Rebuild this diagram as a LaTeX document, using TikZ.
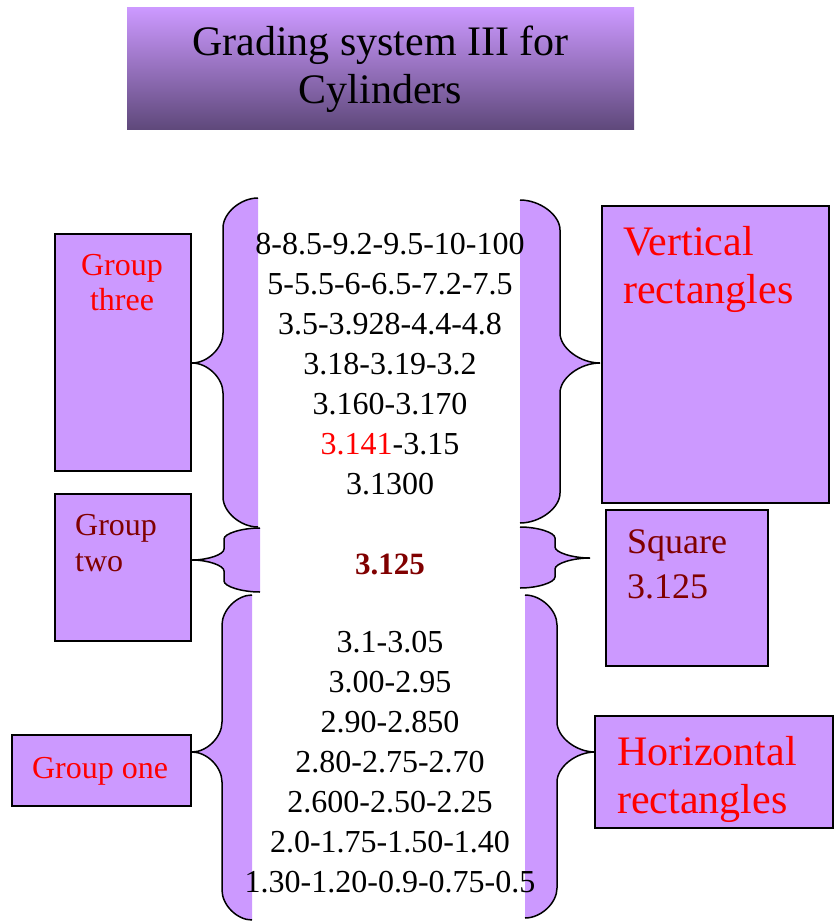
\documentclass[tikz,border=0pt]{standalone}
\usepackage{fontspec}
\setmainfont{Liberation Serif}
\usetikzlibrary{positioning}
\definecolor{lilac}{RGB}{204,153,255}
\definecolor{plumdark}{RGB}{94,72,122}
\definecolor{darkred}{RGB}{128,0,0}
\newcommand{\fsz}[1]{\fontsize{#1}{#1}\selectfont}
% brace: column x, stem x, tip x, top y, tip y, bottom y, corner
\newcommand{\bracepath}[7]{(#1,#4) .. controls ({(#1+#2)/2},#4) and (#2,{#4+#7/2}) .. (#2,#4+#7)
    -- (#2,#5-#7) .. controls (#2,{#5-#7/2}) and ({(#2+#3)/2},#5) .. (#3,#5)
    .. controls ({(#2+#3)/2},#5) and (#2,{#5+#7/2}) .. (#2,#5+#7)
    -- (#2,#6-#7) .. controls (#2,{#6-#7/2}) and ({(#1+#2)/2},#6) .. (#1,#6)}
\newcommand{\sidebrace}[7]{
  \fill[lilac] \bracepath{#1}{#2}{#3}{#4}{#5}{#6}{#7} -- cycle;
  \draw[bracel] \bracepath{#1}{#2}{#3}{#4}{#5}{#6}{#7};
}
\tikzset{
  box/.style={draw,line width=1.5pt,fill=lilac,inner sep=0pt},
  bracel/.style={line width=1.5pt},
  listtxt/.style={anchor=base,inner sep=0pt,font=\fsz{32}},
  grouptxt/.style={inner sep=0pt,font=\fsz{32}},
  kindtxt/.style={anchor=base west,inner sep=0pt}
}
\begin{document}
\begin{tikzpicture}[x=1pt,y=-1pt]
  \useasboundingbox (0,0) rectangle (835,923);
  % title
  \node[top color=lilac,bottom color=plumdark,minimum width=507pt,minimum height=122pt,
        align=center,font=\fsz{42},inner sep=0pt] (title) at (380.5,69)
        {Grading system III for\\[6pt]Cylinders};
  % braces
  \sidebrace{258}{223}{192}{198}{363}{527}{30}
  \sidebrace{520}{560}{600}{200}{363}{523}{30}
  \sidebrace{260}{224}{192}{528}{560}{592}{11}
  \sidebrace{520}{555}{590}{527}{558}{588}{11}
  \sidebrace{252}{222}{192}{595}{752}{920}{30}
  \sidebrace{525}{557}{595}{595}{752}{918}{30}
  % left boxes
  \node[box,minimum width=136pt,minimum height=237pt] (three) at (123,352.5) {};
  \node[box,minimum width=136pt,minimum height=147pt] (two) at (123,567.5) {};
  \node[box,minimum width=179pt,minimum height=71pt] (one) at (101.5,770.5) {};
  \node[grouptxt,anchor=base,text=red] (threea) at (122,275) {Group};
  \node[grouptxt,anchor=base,text=red] (threeb) at (122,310) {three};
  \node[grouptxt,anchor=base west,text=darkred] (twoa) at (75,535) {Group};
  \node[grouptxt,anchor=base west,text=darkred] (twob) at (75,571) {two};
  \node[grouptxt,anchor=base,text=red] (onea) at (100,778) {Group one};
  % right boxes
  \node[box,minimum width=227pt,minimum height=297pt] (vert) at (715.5,354.5) {};
  \node[box,minimum width=162pt,minimum height=156pt] (sq) at (687,588) {};
  \node[box,minimum width=238pt,minimum height=112pt] (hor) at (714,772) {};
  \node[kindtxt,text=red,font=\fsz{42}] (verta) at (623,255) {Vertical};
  \node[kindtxt,text=red,font=\fsz{42}] (vertb) at (623,303) {rectangles};
  \node[kindtxt,text=darkred,font=\fsz{36}] (sqa) at (627,553) {Square};
  \node[kindtxt,text=darkred,font=\fsz{36}] (sqb) at (627,598) {3.125};
  \node[kindtxt,text=red,font=\fsz{42}] (hora) at (617,765) {Horizontal};
  \node[kindtxt,text=red,font=\fsz{42}] (horb) at (617,813) {rectangles};
  % values
  \foreach \txt [count=\i] in {8-8.5-9.2-9.5-10-100,5-5.5-6-6.5-7.2-7.5,3.5-3.928-4.4-4.8,
      3.18-3.19-3.2,3.160-3.170,\textcolor{red}{3.141}-3.15,3.1300}
    \node[listtxt] (up\i) at (390,214+40*\i) {\txt};
  \node[listtxt,text=darkred,font=\fsz{31}\bfseries] (mid) at (390,574) {3.125};
  \foreach \txt [count=\i] in {3.1-3.05,3.00-2.95,2.90-2.850,2.80-2.75-2.70,
      2.600-2.50-2.25,2.0-1.75-1.50-1.40,1.30-1.20-0.9-0.75-0.5}
    \node[listtxt] (low\i) at (390,612+40*\i) {\txt};
\end{tikzpicture}
\end{document}
